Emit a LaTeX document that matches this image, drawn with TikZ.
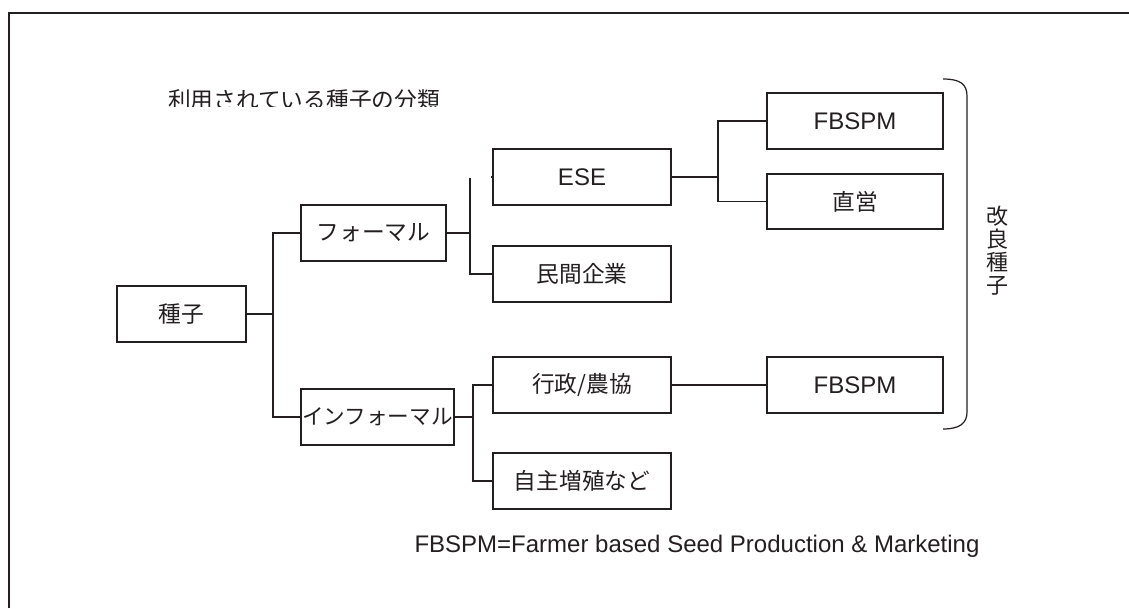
\documentclass[tikz,border=0pt]{standalone}
\usepackage{fontspec}
\setmainfont{Liberation Sans}
\newfontfamily\jp{Noto Sans CJK JP}
\definecolor{ink}{HTML}{231F20}
\begin{document}
\begin{tikzpicture}[x=1pt,y=-1pt,
  box/.style={draw=ink,line width=1.3pt,inner sep=0pt,outer sep=0pt,minimum height=56pt,text=ink},
  jpbox/.style={box,font=\jp\fontsize{22.7}{26}\selectfont},
  enbox/.style={box,font=\fontsize{24}{26}\selectfont},
  conn/.style={draw=ink,line width=1.2pt}]
\useasboundingbox (0,0) rectangle (1129,608);
\fill[white] (0,0) rectangle (1129,608);
% frame
\draw[ink,line width=2pt] (9,608) -- (9,13) -- (1129,13);
% title (clipped)
\begin{scope}
\clip (140,70) rectangle (470,106.7);
\node[inner sep=0pt,text=ink,font=\jp\fontsize{22.7}{26}\selectfont,anchor=base] (title) at (304,108.5) {利用されている種子の分類};
\end{scope}
% boxes
\node[jpbox,minimum width=129pt] (seed) at (181.5,314) {種子};
\node[jpbox,minimum width=145pt] (formal) at (373.5,233) {フォーマル};
\node[jpbox,minimum width=153pt,font=\jp\fontsize{21.6}{26}\selectfont] (informal) at (377.5,417) {インフォーマル};
\node[enbox,minimum width=178pt] (ese) at (582,177) {ESE};
\node[jpbox,minimum width=178pt] (minkan) at (582,274) {民間企業};
\node[jpbox,minimum width=178pt] (gyosei) at (582,385) {行政/農協};
\node[jpbox,minimum width=178pt] (jishu) at (582,481) {自主増殖など};
\node[enbox,minimum width=176pt] (fb1) at (855,121) {FBSPM};
\node[jpbox,minimum width=176pt,minimum height=55pt] (chokuei) at (855,201.5) {直営};
\node[enbox,minimum width=176pt] (fb2) at (855,385) {FBSPM};
% junctions
\coordinate (j1) at (273,314);
\coordinate (j2) at (470,233);
\coordinate (j2top) at (470,178);
\coordinate (j3) at (473,417);
\coordinate (j4) at (718,177);
% connectors
\draw[conn] (seed.east) -- (j1);
\draw[conn] (formal.west) -| (j1) |- (informal.west);
\draw[conn] (formal.east) -- (j2);
\draw[conn] (j2top) |- (minkan.west);
\draw[conn] ([xshift=-2pt]ese.west) -- (ese.west);
\draw[conn] (informal.east) -- (j3);
\draw[conn] (gyosei.west) -| (j3) |- (jishu.west);
\draw[conn] (ese.east) -- (j4);
\draw[conn] (fb1.west) -| (j4) |- (chokuei.west);
\draw[conn] (gyosei.east) -- (fb2.west);
% bracket
\coordinate (bt) at (943,79);
\coordinate (bb) at (943,429);
\draw[ink,line width=1.2pt] (bt) .. controls (960,79) and (967,84) .. (967,96) -- (967,412) .. controls (967,423) and (960,429) .. (bb);
\node[text=ink,font=\jp\fontsize{22}{23}\selectfont,align=center,inner sep=0pt] (kairyo) at (997,251) {改\\良\\種\\子};
% footnote
\node[text=ink,font=\fontsize{24}{26}\selectfont,inner sep=0pt] (note) at (697,546) {FBSPM=Farmer based Seed Production \& Marketing};
\end{tikzpicture}
\end{document}
